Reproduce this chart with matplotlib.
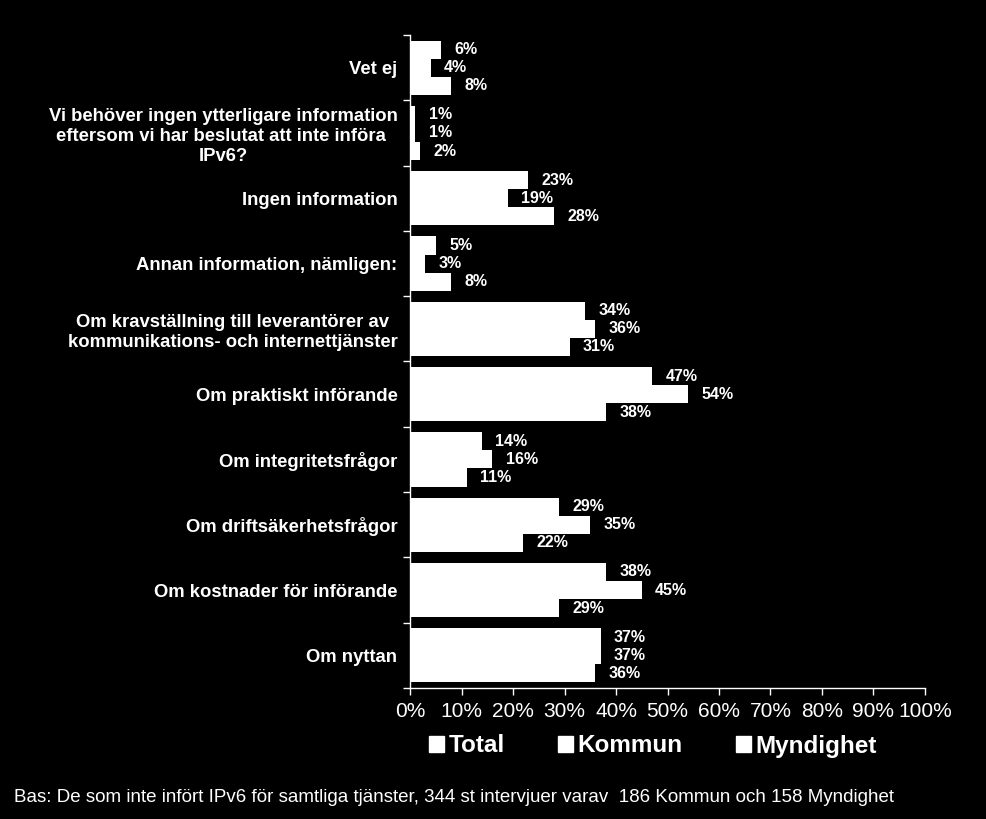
import matplotlib
matplotlib.use("Agg")
import matplotlib.pyplot as plt
import matplotlib.patches as mpatches
import numpy as np

plt.rcParams["font.family"] = ["Liberation Sans", "DejaVu Sans"]

CATEGORIES = [
    "Vet ej",
    "Vi behöver ingen ytterligare information\neftersom vi har beslutat att inte införa \nIPv6?",
    "Ingen information",
    "Annan information, nämligen:",
    "Om kravställning till leverantörer av\nkommunikations- och internettjänster",
    "Om praktiskt införande",
    "Om integritetsfrågor",
    "Om driftsäkerhetsfrågor",
    "Om kostnader för införande",
    "Om nyttan",
]
SERIES = ["Total", "Kommun", "Myndighet"]
TOTAL = [6, 1, 23, 5, 34, 47, 14, 29, 38, 37]
KOMMUN = [4, 1, 19, 3, 36, 54, 16, 35, 45, 37]
MYNDIGHET = [8, 2, 28, 8, 31, 38, 11, 22, 29, 36]
XTICKS = [0, 10, 20, 30, 40, 50, 60, 70, 80, 90, 100]
FOOTNOTE = "Bas: De som inte infört IPv6 för samtliga tjänster, 344 st intervjuer varav  186 Kommun och 158 Myndighet"

BG = "black"
FG = "white"


def main():
    fig = plt.figure(figsize=(9.87, 8.19), dpi=100)
    fig.patch.set_facecolor(BG)
    ax = fig.add_axes([410 / 987, 1 - 688 / 819, 515 / 987, 653 / 819])
    ax.set_facecolor(BG)

    y = np.arange(len(CATEGORIES))
    h = 0.277
    offsets = [-h, 0, h]
    for vals, off in zip([TOTAL, KOMMUN, MYNDIGHET], offsets):
        bars = ax.barh(y + off, vals, height=h, color=FG, edgecolor="none")
        for b, v in zip(bars, vals):
            ax.text(b.get_width() + 2.6, b.get_y() + b.get_height() / 2, f"{v}%",
                    va="center", ha="left", color=FG, fontsize=11.5, fontweight="bold")

    ax.set_xlim(0, 100)
    ax.set_ylim(len(CATEGORIES) - 0.5, -0.5)

    ax.set_xticks(XTICKS)
    ax.set_xticklabels([f"{t}%" for t in XTICKS], fontsize=15, color=FG)
    ax.tick_params(axis="x", colors=FG, length=5, width=1, pad=5)

    ax.set_yticks(y)
    ax.set_yticklabels(CATEGORIES, fontsize=13.3, fontweight="bold", color=FG,
                       multialignment="center", linespacing=1.22)
    ax.tick_params(axis="y", which="major", length=0, pad=9)
    ax.set_yticks(np.arange(len(CATEGORIES) + 1) - 0.5, minor=True)
    ax.tick_params(axis="y", which="minor", length=5, width=1, colors=FG)

    for s in ["top", "right"]:
        ax.spines[s].set_visible(False)
    for s in ["left", "bottom"]:
        ax.spines[s].set_color(FG)
        ax.spines[s].set_linewidth(1)

    handles = [mpatches.Patch(color=FG, label=s) for s in SERIES]
    leg = fig.legend(handles=handles, loc="center", bbox_to_anchor=(653 / 987, 1 - 746 / 819),
                     ncol=3, frameon=False, handlelength=0.6, handleheight=0.6,
                     handletextpad=0.2, columnspacing=2.2,
                     prop={"size": 17.5, "weight": "bold"})
    for t in leg.get_texts():
        t.set_color(FG)

    fig.text(14 / 987, 1 - 797 / 819, FOOTNOTE, color=FG, fontsize=13.5,
             ha="left", va="center")

    fig.savefig("out.png", dpi=100, facecolor=fig.get_facecolor())


if __name__ == "__main__":
    main()
